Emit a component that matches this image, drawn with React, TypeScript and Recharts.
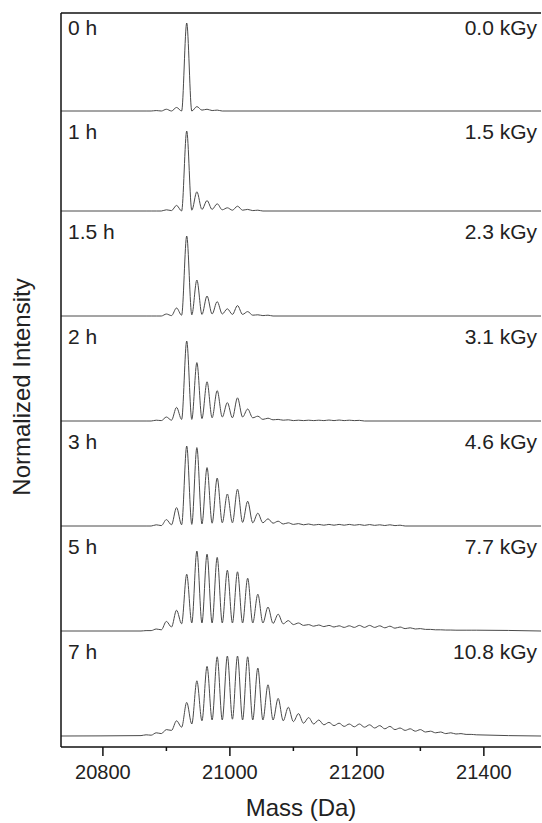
import { LineChart, Line, XAxis, YAxis, ReferenceLine } from 'recharts';

const W = 542;
const H = 823;
// plot box in page pixels
const LEFT = 61;
const RIGHT = 541;
const TOP = 13;
const BOTTOM = 747;

const MASS_MIN = 20734;
const MASS_MAX = 21490;
const GRID_START = 20860; // first valley, just before the -4 satellite
const GRID_STEP = 8; // half the +16 Da oxidation spacing: valley, peak, valley, ...
const Y_MAX = 7.34; // 1 unit = 100 px

const majorTicks = [20800, 21000, 21200, 21400];
const minorTicks = [20900, 21100, 21300];

const timeLabels = ['0 h', '1 h', '1.5 h', '2 h', '3 h', '5 h', '7 h'];
const doseLabels = ['0.0 kGy', '1.5 kGy', '2.3 kGy', '3.1 kGy', '4.6 kGy', '7.7 kGy', '10.8 kGy'];

// normalized intensity on the 8 Da grid starting at GRID_START (valley, peak, valley, peak ...)
const spec0h = [0, 0, 0, 0.005, 0, 0.02, 0, 0.04, 0, 1, 0, 0.05, 0.01, 0.02, 0.005, 0.01, 0];
const spec1h = [0, 0, 0, 0, 0, 0.015, 0.005, 0.07, 0, 1, 0.01, 0.24, 0.02, 0.13, 0.02, 0.09, 0.015, 0.04, 0.01, 0.06, 0.01, 0.02, 0.005, 0.01, 0];
const spec15h = [0, 0, 0, 0, 0, 0.025, 0.005, 0.1, 0.01, 1, 0.015, 0.45, 0.02, 0.25, 0.025, 0.18, 0.025, 0.09, 0.02, 0.13, 0.02, 0.055, 0.01, 0.015, 0.005, 0.01, 0];
const spec2h = [0, 0, 0, 0.01, 0.005, 0.05, 0.01, 0.17, 0.02, 1, 0.02, 0.73, 0.03, 0.49, 0.04, 0.38, 0.05, 0.23, 0.04, 0.29, 0.05, 0.15, 0.04, 0.06, 0.02, 0.035, 0.015, 0.02, 0.01, 0.015, 0.005, 0.01, 0.005, 0.01, 0.005, 0.01, 0.005, 0.012, 0.005, 0.012, 0.005, 0.01, 0.005, 0.008, 0];
const spec3h = [0, 0, 0, 0.015, 0.005, 0.08, 0.015, 0.23, 0.015, 1, 0.02, 0.98, 0.025, 0.73, 0.035, 0.6, 0.04, 0.4, 0.04, 0.46, 0.045, 0.31, 0.04, 0.16, 0.04, 0.09, 0.035, 0.06, 0.025, 0.04, 0.02, 0.03, 0.015, 0.025, 0.012, 0.02, 0.01, 0.02, 0.01, 0.02, 0.01, 0.02, 0.01, 0.018, 0.008, 0.018, 0.008, 0.015, 0.006, 0.015, 0.005, 0.01, 0];
const spec5h = [0, 0.005, 0.005, 0.025, 0.015, 0.12, 0.05, 0.26, 0.09, 0.71, 0.1, 1, 0.1, 0.96, 0.1, 0.92, 0.1, 0.76, 0.1, 0.74, 0.1, 0.66, 0.1, 0.46, 0.1, 0.3, 0.095, 0.21, 0.09, 0.13, 0.08, 0.1, 0.07, 0.08, 0.06, 0.075, 0.055, 0.07, 0.05, 0.065, 0.045, 0.065, 0.045, 0.07, 0.045, 0.07, 0.045, 0.065, 0.04, 0.06, 0.035, 0.05, 0.03, 0.04, 0.025, 0.03, 0.02, 0.02, 0.015, 0.015, 0.012, 0.012, 0.01, 0.01, 0.01, 0.01, 0.01];
const spec7h = [0.005, 0.015, 0.01, 0.04, 0.03, 0.08, 0.07, 0.19, 0.11, 0.42, 0.15, 0.69, 0.19, 0.87, 0.2, 0.99, 0.2, 1, 0.21, 1, 0.2, 0.99, 0.2, 0.85, 0.2, 0.64, 0.2, 0.47, 0.19, 0.36, 0.18, 0.28, 0.16, 0.23, 0.15, 0.2, 0.14, 0.17, 0.13, 0.16, 0.12, 0.15, 0.115, 0.15, 0.11, 0.14, 0.1, 0.13, 0.09, 0.12, 0.08, 0.1, 0.07, 0.09, 0.06, 0.08, 0.05, 0.06, 0.04, 0.05, 0.03, 0.04, 0.025, 0.03, 0.02, 0.02, 0.015];

const spectra = [spec0h, spec1h, spec15h, spec2h, spec3h, spec5h, spec7h];

// stacking offset (baseline) and height scale of each panel, in y units
const panelBase = [6.36, 5.36, 4.31, 3.26, 2.21, 1.16, 0.11];
const panelScale = [0.88, 0.8, 0.8, 0.8, 0.8, 0.8, 0.8];

const toPoints = (spec: number[], base: number, scale: number) => {
  const pts = [{ mass: MASS_MIN, v: base }];
  spec.forEach((s, i) => pts.push({ mass: GRID_START + i * GRID_STEP, v: base + s * scale }));
  pts.push({ mass: MASS_MAX, v: base });
  return pts;
};

const yPx = (v: number) => BOTTOM - (v / Y_MAX) * (BOTTOM - TOP);

const FONT = '"Liberation Sans", Arial, sans-serif';

const MassTick = (props: any) => {
  const { x, payload } = props;
  const major = majorTicks.includes(payload.value);
  return (
    <g>
      <line x1={x} x2={x} y1={BOTTOM} y2={BOTTOM + (major ? 9 : 4)} stroke="#111" strokeWidth={1.5} />
      {major && (
        <text x={x} y={779} textAnchor="middle" fontSize={20} fill="#222" fontFamily={FONT}>
          {payload.value}
        </text>
      )}
    </g>
  );
};

const App = () => {
  const series = spectra.map((s, i) => toPoints(s, panelBase[i], panelScale[i]));
  const allTicks = [...majorTicks, ...minorTicks].sort((a, b) => a - b);

  return (
    <div style={{ position: 'absolute', left: 0, top: 0, width: W, height: H, background: '#fff' }}>
      <LineChart width={W} height={H} margin={{ top: TOP, right: W - RIGHT, bottom: 0, left: 0 }}>
        <XAxis
          dataKey="mass"
          type="number"
          domain={[MASS_MIN, MASS_MAX]}
          allowDataOverflow
          ticks={allTicks}
          interval={0}
          tickLine={false}
          tick={<MassTick />}
          height={H - BOTTOM}
          axisLine={{ stroke: '#111', strokeWidth: 1.5 }}
        />
        <YAxis
          type="number"
          domain={[0, Y_MAX]}
          allowDataOverflow
          width={LEFT}
          tick={false}
          tickLine={false}
          axisLine={{ stroke: '#111', strokeWidth: 1.5 }}
        />
        <ReferenceLine y={Y_MAX} stroke="#111" strokeWidth={1.5} />
        {series.map((pts, i) => (
          <Line
            key={timeLabels[i]}
            data={pts}
            dataKey="v"
            type="monotone"
            stroke="#4a4a4a"
            strokeWidth={1}
            dot={false}
            activeDot={false}
            isAnimationActive={false}
          />
        ))}
      </LineChart>
      <svg width={W} height={H} style={{ position: 'absolute', left: 0, top: 0, pointerEvents: 'none' }}>
        {timeLabels.map((t, i) => {
          const baseline = i === 0 ? 35 : yPx(panelBase[i - 1]) + 28;
          return (
            <g key={t} fontFamily={FONT} fontSize={21} fill="#222">
              <text x={68} y={baseline}>{t}</text>
              <text x={537} y={baseline} textAnchor="end">{doseLabels[i]}</text>
            </g>
          );
        })}
        <text x={301} y={816} textAnchor="middle" fontFamily={FONT} fontSize={24} fill="#222">
          Mass (Da)
        </text>
        <text
          x={30}
          y={387}
          textAnchor="middle"
          fontFamily={FONT}
          fontSize={24}
          fill="#222"
          transform="rotate(-90 30 387)"
        >
          Normalized Intensity
        </text>
      </svg>
    </div>
  );
};

export default App;
